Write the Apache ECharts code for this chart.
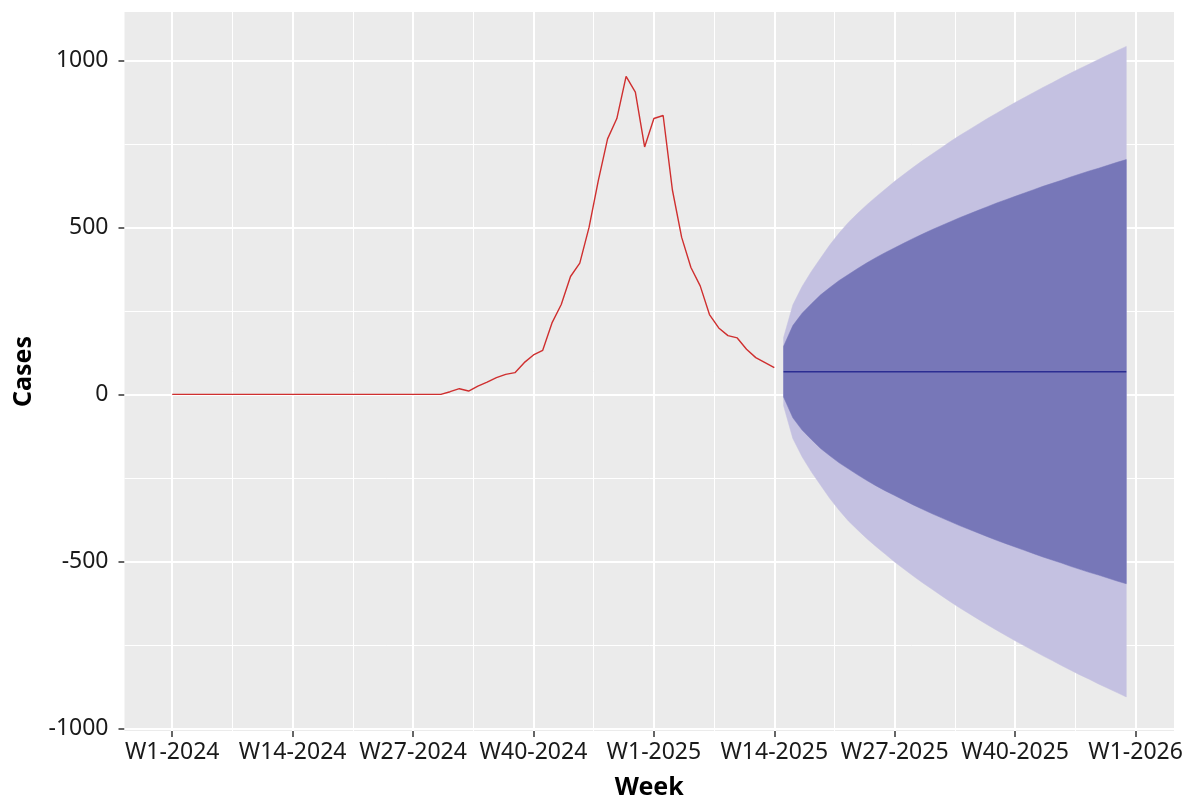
<!DOCTYPE html>
<html><head><meta charset="utf-8">
<script src="https://cdn.jsdelivr.net/npm/echarts@6/dist/echarts.min.js"></script>
<style>html,body{margin:0;padding:0;background:#fff}#chart{width:1186px;height:805px}</style>
</head><body><div id="chart"></div>
<script>
// ---- data ----
const tickWeeks = [0, 13, 26, 39, 52, 65, 78, 91, 104];
const tickLabels = ['W1-2024', 'W14-2024', 'W27-2024', 'W40-2024', 'W1-2025', 'W14-2025', 'W27-2025', 'W40-2025', 'W1-2026'];
const minorWeeks = [6.5, 19.5, 32.5, 45.5, 58.5, 71.5, 84.5, 97.5];
const yTicks = [-1000, -500, 0, 500, 1000];
const yMinor = [-750, -250, 250, 750];

const observedStartWeek = 0;
const observedCases = [0,0,0,0,0,0,0,0,0,0, 0,0,0,0,0,0,0,0,0,0, 0,0,0,0,0,0,0,0,0,0,
  8,17,10,25,37,50,60,65,95,118, 132,214,269,353,393,500,640,765,826,952,
  905,741,826,835,612,470,380,325,239,199, 176,169,135,110,95,80];

const forecastStartWeek = 66;
const forecastMean = [68,68,68,68,68,68,68,68,68,68, 68,68,68,68,68,68,68,68,68,68,
  68,68,68,68,68,68,68,68,68,68, 68,68,68,68,68,68,68,68];
const upper80 = [144,206,243,271,298,320,341,359,377,394, 410,425,439,453,467,480,493,505,517,529,
  540,551,562,573,583,593,603,613,623,632, 641,651,660,669,677,686,695,703];
const lower80 = [-8,-70,-107,-135,-162,-184,-205,-223,-241,-258, -274,-289,-303,-317,-331,-344,-357,-369,-381,-393,
  -404,-415,-426,-437,-447,-457,-467,-477,-487,-496, -505,-515,-524,-533,-541,-550,-559,-567];
const upper95 = [170,268,323,368,408,448,483,515,542,568, 592,615,638,659,680,700,719,738,757,775,
  792,809,826,842,858,874,889,904,919,933, 948,962,976,989,1003,1016,1029,1042];
const lower95 = [-34,-132,-187,-232,-272,-312,-347,-379,-406,-432, -456,-479,-502,-523,-544,-564,-583,-602,-621,-639,
  -656,-673,-690,-706,-722,-738,-753,-768,-783,-797, -812,-826,-840,-853,-867,-880,-893,-906];

// ---- build ----
const FONT = 'Noto Sans';
const obsData = observedCases.map((v, i) => [observedStartWeek + i, v]);
const fw = i => forecastStartWeek + i;
const meanData = forecastMean.map((v, i) => [fw(i), v]);
const band95 = lower95.map((v, i) => [fw(i), v, upper95[i]]);
const band80 = lower80.map((v, i) => [fw(i), v, upper80[i]]);

const LIGHT = '#C4C1E1';
const DARK = '#7777B8';

const gridLines = [];
yTicks.forEach(v => gridLines.push({ yAxis: v, lineStyle: { color: '#fff', width: 2, type: 'solid' } }));
yMinor.forEach(v => gridLines.push({ yAxis: v, lineStyle: { color: '#fff', width: 1, type: 'solid' } }));
tickWeeks.forEach(v => gridLines.push({ xAxis: v, lineStyle: { color: '#fff', width: 2, type: 'solid' } }));
minorWeeks.forEach(v => gridLines.push({ xAxis: v, lineStyle: { color: '#fff', width: 1, type: 'solid' } }));

function bandSeries(data, color, z) {
  return {
    type: 'custom', data, z, silent: true,
    encode: { x: 0, y: [1, 2] },
    renderItem: (params, api) => {
      if (params.dataIndex !== 0) return null;
      const top = data.map(d => api.coord([d[0], d[2]]));
      const bot = data.map(d => api.coord([d[0], d[1]])).reverse();
      return { type: 'polygon', shape: { points: top.concat(bot) }, style: { fill: color, stroke: color, lineWidth: 0.5 } };
    }
  };
}

const chart = echarts.init(document.getElementById('chart'), null, { renderer: 'canvas' });
chart.setOption({
  animation: false,
  backgroundColor: '#fff',
  grid: { left: 124.5, right: 12, top: 12, bottom: 72, show: true, backgroundColor: '#EBEBEB', borderWidth: 0 },
  xAxis: {
    type: 'value', min: -5.15, max: 108.15,
    name: 'Week', nameLocation: 'middle', nameGap: 44,
    nameTextStyle: { fontFamily: FONT, fontSize: 25, fontWeight: 'bold', color: '#000' },
    axisLine: { show: false, onZero: false },
    axisTick: { show: true, length: 6, customValues: tickWeeks, lineStyle: { color: '#333', width: 1.5 } },
    axisLabel: { customValues: tickWeeks, margin: 10, fontFamily: FONT, fontSize: 23, color: '#1a1a1a',
      formatter: v => { const k = tickWeeks.indexOf(v); return k >= 0 ? tickLabels[k] : ''; } },
    splitLine: { show: false }
  },
  yAxis: {
    type: 'value', min: -1008, max: 1145,
    name: 'Cases', nameLocation: 'middle', nameGap: 88, nameRotate: 90,
    nameTextStyle: { fontFamily: FONT, fontSize: 25, fontWeight: 'bold', color: '#000' },
    axisLine: { show: false, onZero: false },
    axisTick: { show: true, length: 6, customValues: yTicks, lineStyle: { color: '#333', width: 1.5 } },
    axisLabel: { customValues: yTicks, margin: 16, fontFamily: FONT, fontSize: 23, color: '#1a1a1a',
      formatter: v => String(v) },
    splitLine: { show: false }
  },
  series: [
    { type: 'line', data: [], z: 1, silent: true,
      markLine: { z: 1, silent: true, symbol: 'none', label: { show: false }, animation: false, data: gridLines } },
    bandSeries(band95, LIGHT, 3),
    bandSeries(band80, DARK, 4),
    { type: 'line', data: meanData, symbol: 'none', z: 5, lineStyle: { color: '#2B2D92', width: 1.5 } },
    { type: 'line', data: obsData, symbol: 'none', z: 5, lineStyle: { color: '#CF2F2F', width: 1.4 } }
  ]
});
</script></body></html>
